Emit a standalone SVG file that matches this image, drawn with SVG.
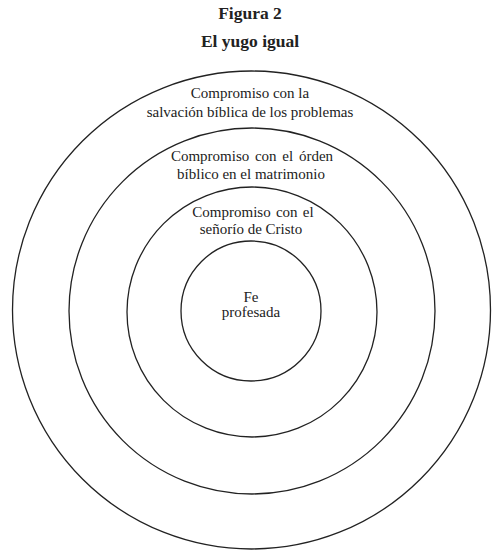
<svg xmlns="http://www.w3.org/2000/svg" width="501" height="556" viewBox="0 0 501 556">
<style>
.ring{fill:none;stroke:#222;stroke-width:1.3}
.t{font-family:"Liberation Serif","DejaVu Serif",serif;font-size:15px;fill:#222;text-anchor:middle}
.h{font-family:"Liberation Serif","DejaVu Serif",serif;font-size:17.5px;font-weight:bold;fill:#222;text-anchor:middle}
</style>
<rect width="501" height="556" fill="#fff"/>
<g id="title">
<text class="h" x="250" y="19">Figura 2</text>
<text class="h" x="250" y="47">El yugo igual</text>
</g>
<g id="ring1">
<circle class="ring" cx="251.5" cy="310" r="239"/>
<text class="t" x="250" y="98">Compromiso con la</text>
<text class="t" x="250" y="117">salvación bíblica de los problemas</text>
</g>
<g id="ring2">
<circle class="ring" cx="252" cy="311" r="183"/>
<text class="t" x="252" y="161" word-spacing="2">Compromiso con el órden</text>
<text class="t" x="251" y="179">bíblico en el matrimonio</text>
</g>
<g id="ring3">
<circle class="ring" cx="252" cy="312" r="125"/>
<text class="t" x="253" y="217" word-spacing="1.5">Compromiso con el</text>
<text class="t" x="251" y="234">señorío de Cristo</text>
</g>
<g id="core">
<circle class="ring" cx="251" cy="311" r="70"/>
<text class="t" x="251" y="302">Fe</text>
<text class="t" x="251" y="317">profesada</text>
</g>
<g id="connectors"></g>
</svg>
